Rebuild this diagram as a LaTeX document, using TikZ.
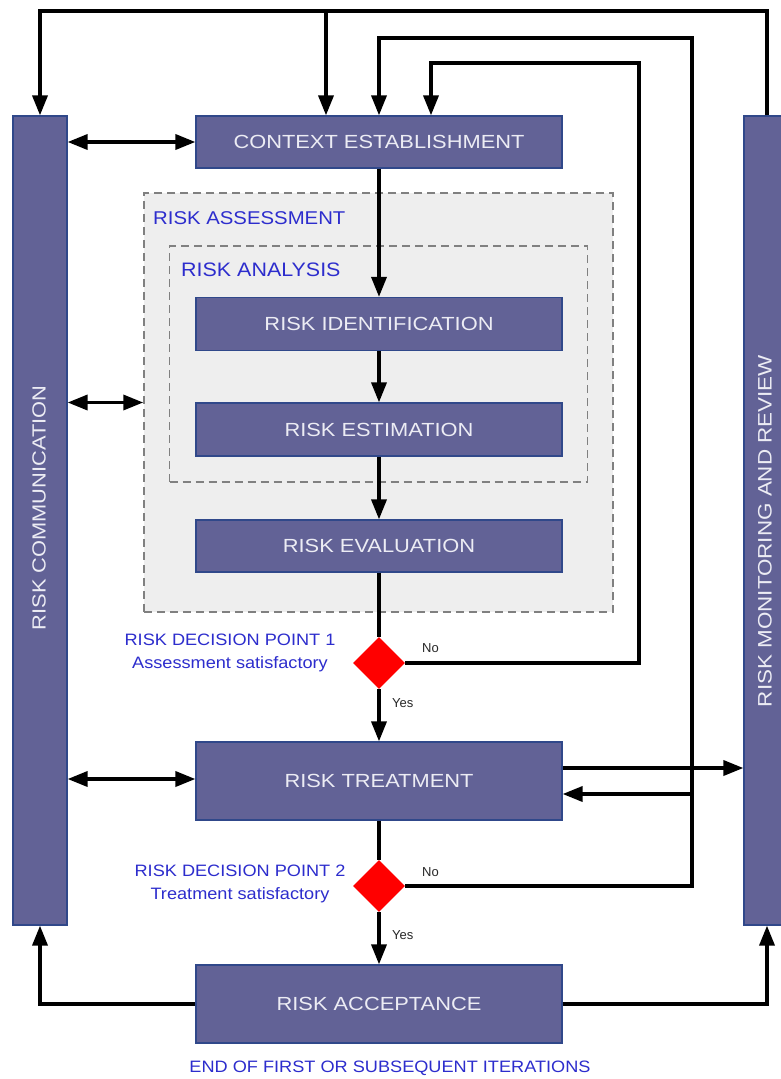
\documentclass[tikz,border=0pt]{standalone}
\usepackage{fontspec}
\usepackage{graphicx}
\setmainfont{Liberation Sans}
\usetikzlibrary{arrows.meta,shapes.geometric,calc}
\definecolor{boxfill}{RGB}{98,98,150}
\definecolor{boxdraw}{RGB}{48,72,138}
\definecolor{boxtext}{RGB}{236,236,244}
\definecolor{lblue}{RGB}{45,45,205}
\definecolor{dgray}{RGB}{128,128,128}
\definecolor{lgray}{RGB}{238,238,238}
\newcommand{\hs}[2][1.15]{\scalebox{#1}[1]{#2}}
\tikzset{
  procbox/.style={rectangle, fill=boxfill, draw=boxdraw, line width=1.2pt, inner sep=0pt,
    text=boxtext, font=\fontsize{19}{22}\selectfont},
  dashbox/.style={rectangle, draw=dgray, line width=1.5pt, dash pattern=on 8pt off 5pt, inner sep=0pt},
  decis/.style={diamond, fill=red, draw=none, minimum width=52pt, minimum height=52pt, inner sep=0pt, aspect=1},
  bluelbl/.style={text=lblue, inner sep=0pt},
  yn/.style={text={rgb,255:red,40;green,40;blue,40}, inner sep=0pt, font=\fontsize{13}{15}\selectfont},
  ln/.style={line width=3.5pt, black},
  arr/.style={ln, -{Triangle[length=20pt,width=15pt]}},
  darr/.style={ln, {Triangle[length=20pt,width=15pt]}-{Triangle[length=20pt,width=15pt]}},
}
\begin{document}
\begin{tikzpicture}[x=1pt,y=-1pt]
\clip (0,0) rectangle (781,1079);
\fill[white] (0,0) rectangle (781,1079);
% dashed groups
\node[dashbox, fill=lgray, minimum width=469pt, minimum height=419pt] (assess) at (378.5,402.5) {};
\node[dashbox, minimum width=418pt, minimum height=236pt] (analy) at (378.5,364) {};
\node[bluelbl, anchor=west, font=\fontsize{18.5}{21}\selectfont] (assesslbl) at (153,218) {\hs[1.1]{RISK ASSESSMENT}};
\node[bluelbl, anchor=west, font=\fontsize{19.5}{22}\selectfont] (analylbl) at (181,270) {\hs[1.1]{RISK ANALYSIS}};
% side bars
\node[procbox, minimum width=54pt, minimum height=809pt] (comm) at (40,520.5) {};
\node[procbox, minimum width=46pt, minimum height=809pt] (monit) at (767,520.5) {};
\node[text=boxtext, rotate=90, inner sep=0pt, font=\fontsize{19}{22}\selectfont] (commlbl) at (39,508) {\hs{RISK COMMUNICATION}};
\node[text=boxtext, rotate=90, inner sep=0pt, font=\fontsize{19.5}{22}\selectfont] (monitlbl) at (765,531) {\hs{RISK MONITORING AND REVIEW}};
% process boxes
\node[procbox, minimum width=366pt, minimum height=52pt] (ctx) at (379,142) {\hs{CONTEXT ESTABLISHMENT}};
\node[procbox, minimum width=366pt, minimum height=53pt] (ident) at (379,324) {\hs{RISK IDENTIFICATION}};
\node[procbox, minimum width=366pt, minimum height=53pt] (estim) at (379,429.5) {\hs{RISK ESTIMATION}};
\node[procbox, minimum width=366pt, minimum height=52pt] (evalu) at (379,546) {\hs{RISK EVALUATION}};
\node[procbox, minimum width=366pt, minimum height=78pt] (treat) at (379,781) {\hs{RISK TREATMENT}};
\node[procbox, minimum width=366pt, minimum height=78pt] (accept) at (379,1004) {\hs{RISK ACCEPTANCE}};
% decisions
\node[decis] (dia1) at (379,663) {};
\node[decis] (dia2) at (379,886) {};
\node[bluelbl, align=center, font=\fontsize{16.5}{23}\selectfont] (d1lbl) at (230,653) {\hs[1.1]{RISK DECISION POINT 1}\\\hs[1.1]{Assessment satisfactory}};
\node[bluelbl, align=center, font=\fontsize{16.5}{23}\selectfont] (d2lbl) at (240,884) {\hs[1.1]{RISK DECISION POINT 2}\\\hs[1.1]{Treatment satisfactory}};
\node[yn, anchor=west] (no1) at (422,648) {No};
\node[yn, anchor=west] (yes1) at (392,703) {Yes};
\node[yn, anchor=west] (no2) at (422,872) {No};
\node[yn, anchor=west] (yes2) at (392,935) {Yes};
\node[bluelbl, font=\fontsize{16.5}{20}\selectfont] (endlbl) at (390,1068) {\hs[1.1]{END OF FIRST OR SUBSEQUENT ITERATIONS}};
% routing coordinates
\coordinate (top1) at (770,11);
\coordinate (b1) at (326,11);
\coordinate (c2) at (692,38);
\coordinate (c3) at (639,63);
% connectors
\draw[arr] (monit.north) -- (monit.north |- top1) -| (comm.north);
\draw[arr] (b1) -- (b1 |- ctx.north);
\draw[arr] (dia2.east) -| (c2) -| (ctx.north);
\draw[arr] (dia1.east) -| (c3) -| ($(ctx.north)+(52,0)$);
\draw[arr] (c2 |- 0,794) -- (treat.east |- 0,794);
\draw[arr] (treat.east |- 0,768) -- (monit.west |- 0,768);
\draw[arr] (ctx.south) -- (ident.north);
\draw[arr] (ident.south) -- (estim.north);
\draw[arr] (estim.south) -- (evalu.north);
\draw[ln] (evalu.south) -- (dia1.north);
\draw[arr] (dia1.south) -- (treat.north);
\draw[ln] (treat.south) -- (dia2.north);
\draw[arr] (dia2.south) -- (accept.north);
\draw[darr] (comm.east |- ctx.west) -- (ctx.west);
\draw[darr] (comm.east |- assess.west) -- (assess.west);
\draw[darr] (comm.east |- 0,779) -- (treat.west |- 0,779);
\draw[arr] (accept.west) -| (comm.south);
\draw[arr] (accept.east) -| (monit.south);
\end{tikzpicture}
\end{document}
